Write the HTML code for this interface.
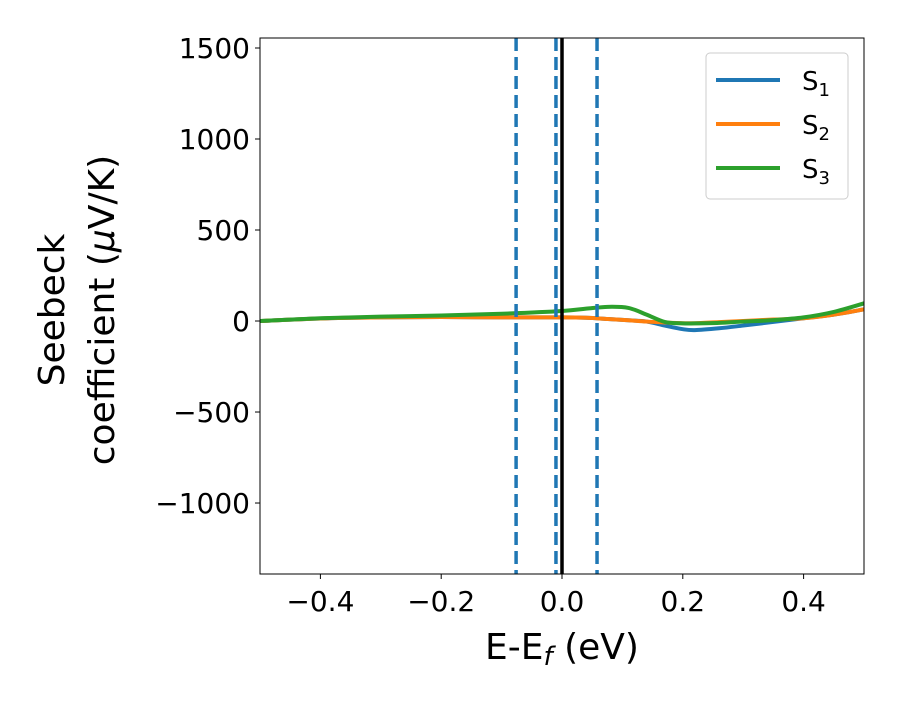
<!DOCTYPE html>
<html><head><meta charset="utf-8"><style>body{margin:0;background:#fff}svg{font-family:"DejaVu Sans","Liberation Sans",sans-serif}</style></head>
<body>
<svg id="chart" width="900" height="700" viewBox="0 0 900 700" xmlns="http://www.w3.org/2000/svg">
<g id="plot"></g>
</svg>
<script>
const energies=[-0.5,-0.4,-0.3,-0.2,-0.1,0,0.04,0.076,0.11,0.14,0.17,0.2,0.22,0.26,0.3,0.35,0.4,0.45,0.5];
const s1=[0,14,20,22,20,20,18,11,4,-3,-25,-45,-50,-40,-25,-5,15,35,64];
const s2=[0,14,20,22,20,20,18,11,4,-3,-8,-12,-12,-6,0,8,15,35,64];
const s3=[0,15,24,30,40,55,68,78,72,35,-5,-13,-13,-10,-3,5,20,50,97];
const dashedLines=[-0.076,-0.01,0.058];
const xTicks=[-0.4,-0.2,0.0,0.2,0.4];
const xTickLabels=["−0.4","−0.2","0.0","0.2","0.4"];
const yTicks=[-1000,-500,0,500,1000,1500];
const yTickLabels=["−1000","−500","0","500","1000","1500"];
const seriesNames=["S","S","S"];
const L=260,R=864,T=38,B=574,xMin=-0.5,xMax=0.5,yMin=-1390,yMax=1555;
const X=v=>L+(v-xMin)/(xMax-xMin)*(R-L);
const Y=v=>B-(v-yMin)/(yMax-yMin)*(B-T);
const g=document.getElementById('plot');
const NS="http://www.w3.org/2000/svg";
function mk(t,a,p){const e=document.createElementNS(NS,t);for(const k in a)e.setAttribute(k,a[k]);(p||g).appendChild(e);return e;}
function smooth(xs,ys){let pts=xs.map((x,i)=>[X(x),Y(ys[i])]);let d="M"+pts[0][0]+","+pts[0][1];for(let i=0;i<pts.length-1;i++){const p0=pts[Math.max(0,i-1)],p1=pts[i],p2=pts[i+1],p3=pts[Math.min(pts.length-1,i+2)];const c1=[p1[0]+(p2[0]-p0[0])/6,p1[1]+(p2[1]-p0[1])/6],c2=[p2[0]-(p3[0]-p1[0])/6,p2[1]-(p3[1]-p1[1])/6];d+=` C${c1[0]},${c1[1]} ${c2[0]},${c2[1]} ${p2[0]},${p2[1]}`;}return d;}
const clip=mk('clipPath',{id:'cp'});mk('rect',{x:L,y:T,width:R-L,height:B-T},clip);
const series=[[s1,'#1f77b4','s1-line'],[s2,'#ff7f0e','s2-line'],[s3,'#2ca02c','s3-line']];
series.forEach(s=>{const p=mk('path',{d:smooth(energies,s[0]),fill:'none',stroke:s[1],'stroke-width':4,'clip-path':'url(#cp)'});

});
dashedLines.forEach(v=>{const l=mk('line',{x1:X(v),x2:X(v),y1:T,y2:B,stroke:'#1f77b4','stroke-width':3.5,'stroke-dasharray':'13,6'});

});
const z=mk('line',{x1:X(0),x2:X(0),y1:T,y2:B,stroke:'#000','stroke-width':3.5});


const f=mk('rect',{x:L,y:T,width:R-L,height:B-T,fill:'none',stroke:'#000','stroke-width':1});


xTicks.forEach((v,i)=>{mk('line',{x1:X(v),x2:X(v),y1:B,y2:B+5,stroke:'#000'});const t=mk('text',{x:X(v),y:B+37,'text-anchor':'middle','font-size':28});t.textContent=xTickLabels[i];

});
yTicks.forEach((v,i)=>{mk('line',{x1:L-5,x2:L,y1:Y(v),y2:Y(v),stroke:'#000'});const t=mk('text',{x:L-10,y:Y(v)+10,'text-anchor':'end','font-size':28});t.textContent=yTickLabels[i];

});
const xt=mk('text',{x:562,y:659,'text-anchor':'middle','font-size':36});xt.innerHTML='E-E<tspan font-style="italic" font-size="26" dy="6">f</tspan><tspan dy="-6"> (eV)</tspan>';


const yt=mk('text',{transform:'translate(64,310) rotate(-90)','text-anchor':'middle','font-size':36});yt.innerHTML='<tspan x="0" dy="0">Seebeck</tspan><tspan x="0" dy="50">coefficient  (<tspan font-style="italic">μ</tspan>V/K)</tspan>';


const lg=mk('g',{});


mk('rect',{x:706,y:53,width:142,height:146,rx:4,fill:'#fff',stroke:'#ccc'},lg);
series.forEach((s,i)=>{const yy=80+i*44;mk('line',{x1:716,x2:780,y1:yy,y2:yy,stroke:s[1],'stroke-width':4},lg);const t=mk('text',{x:802,y:yy+10,'font-size':26},lg);t.innerHTML=seriesNames[i]+'<tspan font-size="18" dy="6">'+(i+1)+'</tspan>';

});
</script>
</body></html>
